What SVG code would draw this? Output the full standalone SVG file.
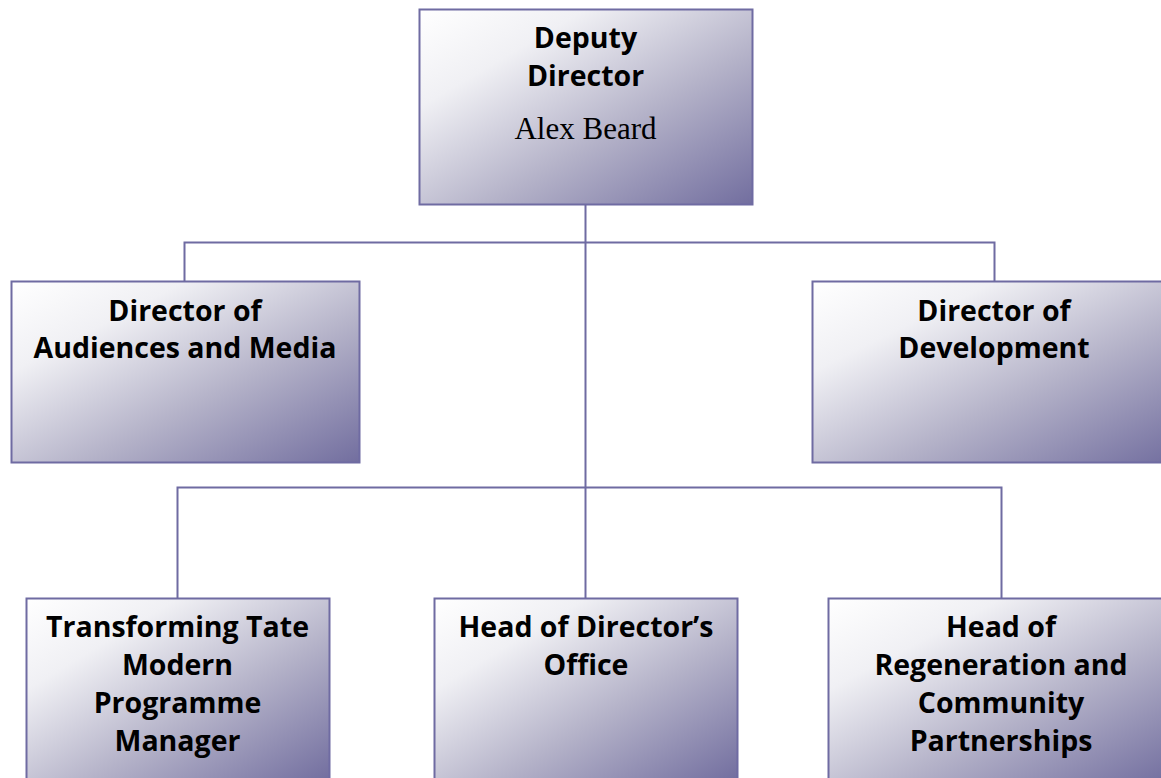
<svg xmlns="http://www.w3.org/2000/svg" width="1161" height="778" viewBox="0 0 1161 778">
<defs>
<linearGradient id="g" x1="0" y1="0" x2="1" y2="1">
<stop offset="0" stop-color="#ffffff"/>
<stop offset="0.25" stop-color="#f0f0f4"/>
<stop offset="0.6" stop-color="#b5b3c9"/>
<stop offset="1" stop-color="#726e9f"/>
</linearGradient>
</defs>
<style>
.box{fill:url(#g);stroke:#6f6ba2;stroke-width:2}
.t{font-family:"Open Sans","DejaVu Sans",sans-serif;font-weight:700;font-size:28.5px;fill:#000;text-anchor:middle}
.n{font-family:"Liberation Serif","Times New Roman",serif;font-size:31px;fill:#000;text-anchor:middle}
.c{fill:none;stroke:#6f6ba2;stroke-width:2}
</style>
<rect width="1161" height="778" fill="#fff"/>
<g id="connectors">
<path class="c" d="M585.5 205V487"/>
<path class="c" d="M184.5 281V242.5H994.5V281"/>
<path class="c" d="M177.5 598V487.5H1001.5V598"/>
<path class="c" d="M585.5 487V598"/>
</g>
<g id="deputy-director">
<rect class="box" x="419.5" y="9.5" width="333" height="195"/>
<text class="t" x="585.5" y="48">Deputy</text>
<text class="t" x="585.5" y="86">Director</text>
<text class="n" x="585.5" y="139">Alex Beard</text>
</g>
<g id="director-audiences">
<rect class="box" x="11.5" y="281.5" width="348" height="181"/>
<text class="t" x="185" y="321">Director of</text>
<text class="t" x="185" y="358">Audiences and Media</text>
</g>
<g id="director-development">
<rect class="box" x="812.5" y="281.5" width="364" height="181"/>
<text class="t" x="994" y="321">Director of</text>
<text class="t" x="994" y="358">Development</text>
</g>
<g id="transforming-tate">
<rect class="box" x="26.5" y="598.5" width="303" height="182"/>
<text class="t" x="177.5" y="637">Transforming Tate</text>
<text class="t" x="177.5" y="675">Modern</text>
<text class="t" x="177.5" y="713">Programme</text>
<text class="t" x="177.5" y="751">Manager</text>
</g>
<g id="head-directors-office">
<rect class="box" x="434.5" y="598.5" width="303" height="182"/>
<text class="t" x="586" y="637">Head of Director’s</text>
<text class="t" x="586" y="675">Office</text>
</g>
<g id="head-regeneration">
<rect class="box" x="828.5" y="598.5" width="346" height="182"/>
<text class="t" x="1001" y="637">Head of</text>
<text class="t" x="1001" y="675">Regeneration and</text>
<text class="t" x="1001" y="713">Community</text>
<text class="t" x="1001" y="751">Partnerships</text>
</g>
</svg>
